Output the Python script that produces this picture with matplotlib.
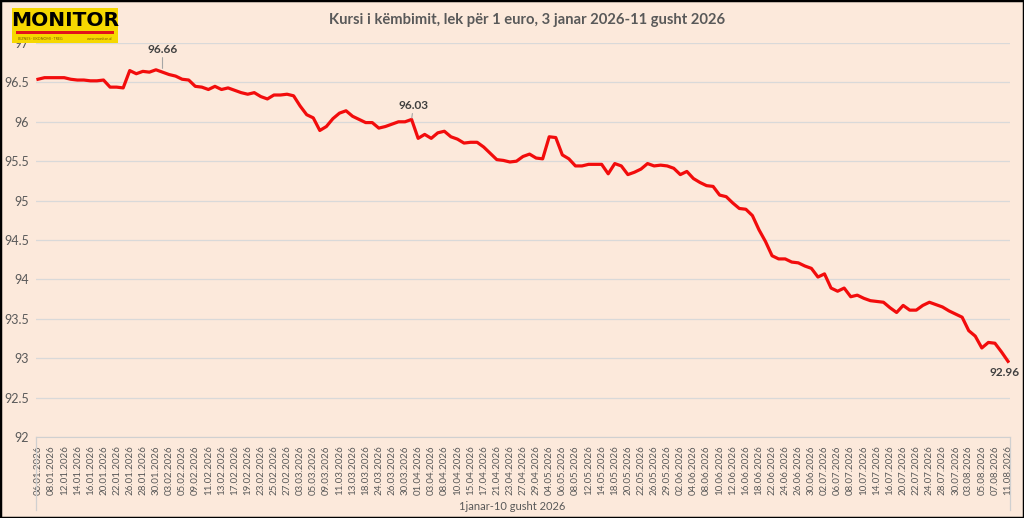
import matplotlib.pyplot as plt
from matplotlib.lines import Line2D
from matplotlib.patches import Rectangle

plt.rcParams['font.family'] = ['Lato', 'DejaVu Sans']

# datat (ditë pune) - kursi lek/euro
dates = [
    "06.01.2026", "07.01.2026", "08.01.2026", "09.01.2026", "12.01.2026", "13.01.2026",
    "14.01.2026", "15.01.2026", "16.01.2026", "19.01.2026", "20.01.2026", "21.01.2026",
    "22.01.2026", "23.01.2026", "26.01.2026", "27.01.2026", "28.01.2026", "29.01.2026",
    "30.01.2026", "02.02.2026", "03.02.2026", "04.02.2026", "05.02.2026", "06.02.2026",
    "09.02.2026", "10.02.2026", "11.02.2026", "12.02.2026", "13.02.2026", "16.02.2026",
    "17.02.2026", "18.02.2026", "19.02.2026", "20.02.2026", "23.02.2026", "24.02.2026",
    "25.02.2026", "26.02.2026", "27.02.2026", "02.03.2026", "03.03.2026", "04.03.2026",
    "05.03.2026", "06.03.2026", "09.03.2026", "10.03.2026", "11.03.2026", "12.03.2026",
    "13.03.2026", "17.03.2026", "18.03.2026", "23.03.2026", "24.03.2026", "25.03.2026",
    "26.03.2026", "27.03.2026", "30.03.2026", "31.03.2026", "01.04.2026", "02.04.2026",
    "03.04.2026", "07.04.2026", "08.04.2026", "09.04.2026", "10.04.2026", "14.04.2026",
    "15.04.2026", "16.04.2026", "17.04.2026", "20.04.2026", "21.04.2026", "22.04.2026",
    "23.04.2026", "24.04.2026", "27.04.2026", "28.04.2026", "29.04.2026", "30.04.2026",
    "04.05.2026", "05.05.2026", "06.05.2026", "07.05.2026", "08.05.2026", "11.05.2026",
    "12.05.2026", "13.05.2026", "14.05.2026", "15.05.2026", "18.05.2026", "19.05.2026",
    "20.05.2026", "21.05.2026", "22.05.2026", "25.05.2026", "26.05.2026", "27.05.2026",
    "29.05.2026", "01.06.2026", "02.06.2026", "03.06.2026", "04.06.2026", "05.06.2026",
    "08.06.2026", "09.06.2026", "10.06.2026", "11.06.2026", "12.06.2026", "15.06.2026",
    "16.06.2026", "17.06.2026", "18.06.2026", "19.06.2026", "22.06.2026", "23.06.2026",
    "24.06.2026", "25.06.2026", "26.06.2026", "29.06.2026", "30.06.2026", "01.07.2026",
    "02.07.2026", "03.07.2026", "06.07.2026", "07.07.2026", "08.07.2026", "09.07.2026",
    "10.07.2026", "13.07.2026", "14.07.2026", "15.07.2026", "16.07.2026", "17.07.2026",
    "20.07.2026", "21.07.2026", "22.07.2026", "23.07.2026", "24.07.2026", "27.07.2026",
    "28.07.2026", "29.07.2026", "30.07.2026", "31.07.2026", "03.08.2026", "04.08.2026",
    "05.08.2026", "06.08.2026", "07.08.2026", "10.08.2026", "11.08.2026",
]

kursi = [
    96.54, 96.56, 96.56, 96.56, 96.56, 96.54, 96.53, 96.53, 96.52, 96.52,
    96.53, 96.44, 96.44, 96.43, 96.65, 96.61, 96.64, 96.63, 96.66, 96.63,
    96.60, 96.58, 96.54, 96.53, 96.45, 96.44, 96.41, 96.45, 96.41, 96.43,
    96.40, 96.37, 96.35, 96.37, 96.32, 96.29, 96.34, 96.34, 96.35, 96.33,
    96.20, 96.09, 96.05, 95.89, 95.94, 96.04, 96.11, 96.14, 96.07, 96.03,
    95.99, 95.99, 95.92, 95.94, 95.97, 96.00, 96.00, 96.03, 95.79, 95.84,
    95.79, 95.86, 95.88, 95.81, 95.78, 95.73, 95.74, 95.74, 95.68, 95.60,
    95.52, 95.51, 95.49, 95.50, 95.56, 95.59, 95.54, 95.53, 95.81, 95.80,
    95.58, 95.53, 95.44, 95.44, 95.46, 95.46, 95.46, 95.34, 95.47, 95.44,
    95.33, 95.36, 95.40, 95.47, 95.44, 95.45, 95.44, 95.41, 95.33, 95.37,
    95.28, 95.23, 95.19, 95.18, 95.07, 95.05, 94.97, 94.90, 94.89, 94.81,
    94.63, 94.48, 94.30, 94.26, 94.26, 94.22, 94.21, 94.17, 94.14, 94.03,
    94.07, 93.89, 93.85, 93.89, 93.78, 93.80, 93.76, 93.73, 93.72, 93.71,
    93.64, 93.58, 93.67, 93.61, 93.61, 93.67, 93.71, 93.68, 93.65, 93.60,
    93.56, 93.52, 93.35, 93.28, 93.13, 93.20, 93.19, 93.08, 92.96,
]

bg = "#FCE9DB"
gri = "#595959"

fig = plt.figure(figsize=(10.24, 5.18), dpi=100, facecolor=bg)
fig.patches.append(Rectangle((0, 0), 1, 1, transform=fig.transFigure, fill=False,
                             edgecolor="black", linewidth=2.5))

ax = fig.add_axes([36 / 1024, 1 - 437 / 518, 974 / 1024, 394 / 518])
ax.set_facecolor(bg)

x = list(range(len(kursi)))
ax.plot(x, kursi, color="#F20C0C", linewidth=2.3, solid_joinstyle="round", zorder=3)

ax.set_xlim(-0.3, len(kursi) - 0.7)
ax.set_ylim(92, 97)
ax.set_yticks([92 + 0.5 * k for k in range(11)])
ax.set_yticklabels([f"{92 + 0.5 * k:g}" for k in range(11)])
ax.grid(axis="y", color="#D9D9D9", linewidth=0.9)
ax.set_axisbelow(True)

ax.set_xticks(x[::2])
ax.set_xticklabels(dates[::2], rotation=90)
ax.tick_params(axis="x", length=0, pad=6, labelsize=7, labelcolor=gri)
ax.tick_params(axis="y", length=0, pad=5, labelsize=9, labelcolor=gri)

for s in ["top", "right", "left"]:
    ax.spines[s].set_visible(False)
ax.spines["bottom"].set_color("#D0D0D0")

# etiketat e vlerave
ax.annotate(f"{kursi[18]:.2f}", xy=(19, kursi[18]), xytext=(19, 96.85),
            ha="center", va="bottom", fontsize=8.5, fontweight="bold", color="#404040",
            arrowprops=dict(arrowstyle="-", color="#A6A6A6", lw=0.8, shrinkA=0, shrinkB=1))
ax.annotate(f"{kursi[57]:.2f}", xy=(57, kursi[57]), xytext=(57.3, 96.14),
            ha="center", va="bottom", fontsize=8.5, fontweight="bold", color="#404040",
            arrowprops=dict(arrowstyle="-", color="#A6A6A6", lw=0.8, shrinkA=0, shrinkB=1))
ax.text(len(kursi) - 1.5, kursi[-1] - 0.07, f"{kursi[-1]:.2f}", ha="center", va="top",
        fontsize=8.5, fontweight="bold", color="#404040")

# kuti e boshtit të kategorive
fig.add_artist(Line2D([36 / 1024, 36 / 1024], [1 - 437 / 518, 1 - 510 / 518], color="#D0D0D0", lw=0.9))
fig.add_artist(Line2D([1010 / 1024, 1010 / 1024], [1 - 437 / 518, 1 - 510 / 518], color="#D0D0D0", lw=0.9))

fig.text(0.5, 1 - 506 / 518, "1janar-10 gusht 2026", ha="center", va="center",
         fontsize=8, color=gri)
fig.text(0.515, 1 - 20 / 518, "Kursi i këmbimit, lek për 1 euro, 3 janar 2026-11 gusht 2026",
         ha="center", va="center", fontsize=10.6, fontweight="bold", color=gri)

# logo
logo = fig.add_axes([12 / 1024, 1 - 43 / 518, 106 / 1024, 35 / 518])
logo.set_xlim(0, 1)
logo.set_ylim(0, 1)
logo.axis("off")
logo.add_patch(Rectangle((0, 0), 1, 1, facecolor="#F6D800", edgecolor="none"))
logo.text(0.5, 0.64, "MONITOR", ha="center", va="center", fontsize=14.5,
          fontweight="black", color="black", family=["DejaVu Sans"])
logo.add_patch(Rectangle((0.04, 0.25), 0.92, 0.08, facecolor="#E3121B", edgecolor="none"))
logo.text(0.06, 0.1, "BIZNES · EKONOMI · TREG", ha="left", va="center", fontsize=2.6, color="#7A5A00")
logo.text(0.95, 0.1, "www.monitor.al", ha="right", va="center", fontsize=2.6, color="#7A5A00")

plt.savefig("out.png", dpi=100, facecolor=bg)
